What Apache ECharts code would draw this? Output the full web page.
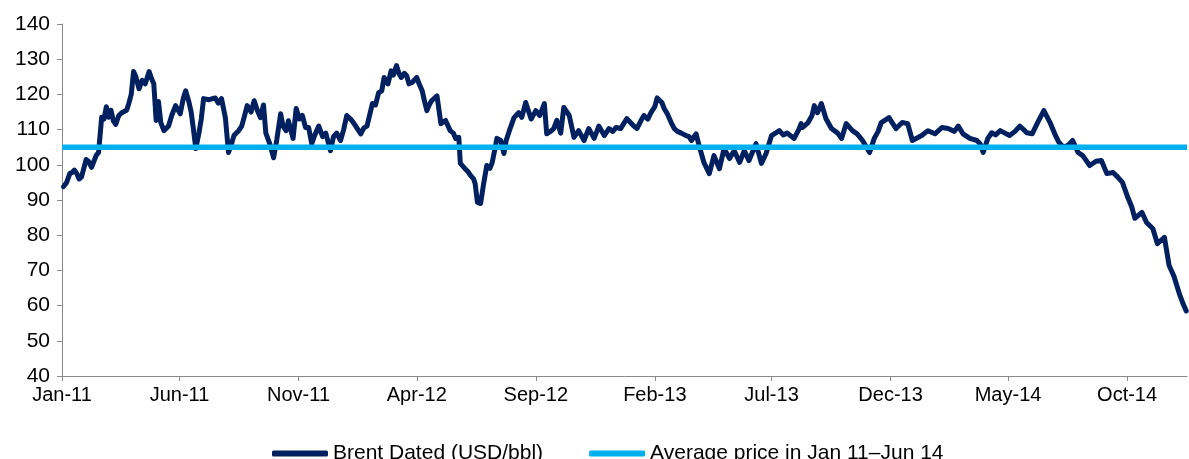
<!DOCTYPE html>
<html>
<head>
<meta charset="utf-8">
<script src="https://cdn.jsdelivr.net/npm/echarts@6/dist/echarts.min.js"></script>
<style>
  html, body { margin: 0; padding: 0; background: #fff; }
  #brentChart { width: 1189px; height: 459px; }
</style>
</head>
<body>
<div id="brentChart"></div>
<script>
// Brent Dated, USD/bbl
const brentDates = [
  '2011-01-03','2011-01-07','2011-01-11','2011-01-14','2011-01-17','2011-01-20','2011-01-23','2011-01-26','2011-01-29',
  '2011-02-01','2011-02-04','2011-02-08','2011-02-11','2011-02-14','2011-02-17','2011-02-19','2011-02-21','2011-02-24','2011-02-27',
  '2011-03-02','2011-03-05','2011-03-08','2011-03-11','2011-03-15','2011-03-19','2011-03-25','2011-03-28','2011-03-31',
  '2011-04-03','2011-04-06','2011-04-10','2011-04-14','2011-04-18','2011-04-23','2011-04-26','2011-04-29',
  '2011-05-02','2011-05-05','2011-05-08','2011-05-12','2011-05-18','2011-05-22','2011-05-27',
  '2011-06-02','2011-06-06','2011-06-09','2011-06-13','2011-06-16','2011-06-19','2011-06-22','2011-06-26','2011-06-29',
  '2011-07-02','2011-07-09','2011-07-17','2011-07-21','2011-07-25','2011-07-30',
  '2011-08-03','2011-08-07','2011-08-10','2011-08-16','2011-08-20','2011-08-23','2011-08-27',
  '2011-09-01','2011-09-05','2011-09-09','2011-09-13','2011-09-17','2011-09-20','2011-09-25','2011-09-30',
  '2011-10-04','2011-10-09','2011-10-12','2011-10-16','2011-10-19','2011-10-25','2011-10-29',
  '2011-11-02','2011-11-06','2011-11-10','2011-11-14','2011-11-18','2011-11-22','2011-11-27',
  '2011-12-02','2011-12-06','2011-12-09','2011-12-12','2011-12-16','2011-12-20','2011-12-25','2011-12-29',
  '2012-01-02','2012-01-07','2012-01-12','2012-01-20','2012-01-24','2012-01-28',
  '2012-02-04','2012-02-08','2012-02-12','2012-02-16','2012-02-19','2012-02-24','2012-02-28',
  '2012-03-02','2012-03-06','2012-03-09','2012-03-12','2012-03-16','2012-03-19','2012-03-22','2012-03-26',
  '2012-04-01','2012-04-04','2012-04-08','2012-04-11','2012-04-14','2012-04-17','2012-04-20','2012-04-27',
  '2012-05-02','2012-05-08','2012-05-14','2012-05-18','2012-05-21','2012-05-25','2012-05-27',
  '2012-06-02','2012-06-06','2012-06-09','2012-06-13','2012-06-15','2012-06-18','2012-06-22','2012-06-26','2012-06-30',
  '2012-07-04','2012-07-07','2012-07-10','2012-07-13','2012-07-18','2012-07-22','2012-07-25','2012-07-29',
  '2012-08-04','2012-08-10','2012-08-14','2012-08-19','2012-08-23','2012-08-26',
  '2012-09-01','2012-09-06','2012-09-12','2012-09-15','2012-09-20','2012-09-24','2012-09-28',
  '2012-10-03','2012-10-07','2012-10-14','2012-10-20','2012-10-26',
  '2012-11-02','2012-11-08','2012-11-15','2012-11-21','2012-11-28',
  '2012-12-04','2012-12-09','2012-12-13','2012-12-19','2012-12-27',
  '2013-01-05','2013-01-09','2013-01-14','2013-01-18','2013-01-23','2013-01-27',
  '2013-02-01','2013-02-04','2013-02-10','2013-02-13','2013-02-17','2013-02-22','2013-02-26',
  '2013-03-02','2013-03-07','2013-03-13','2013-03-17','2013-03-20','2013-03-26','2013-03-30',
  '2013-04-05','2013-04-12','2013-04-18','2013-04-25',
  '2013-05-01','2013-05-08','2013-05-14','2013-05-21','2013-05-27',
  '2013-06-02','2013-06-11','2013-06-18','2013-06-24',
  '2013-07-01','2013-07-06','2013-07-11','2013-07-16','2013-07-21','2013-07-30',
  '2013-08-05','2013-08-08','2013-08-10','2013-08-17','2013-08-22','2013-08-25','2013-08-29',
  '2013-09-03','2013-09-09','2013-09-16','2013-09-24','2013-09-29',
  '2013-10-05','2013-10-13','2013-10-19','2013-10-26',
  '2013-11-04','2013-11-10','2013-11-15','2013-11-19','2013-11-29',
  '2013-12-03','2013-12-08','2013-12-16','2013-12-23','2013-12-29',
  '2014-01-10','2014-01-18','2014-01-27',
  '2014-02-05','2014-02-13','2014-02-21','2014-02-26',
  '2014-03-04','2014-03-13','2014-03-22','2014-03-26','2014-03-30',
  '2014-04-05','2014-04-10','2014-04-15','2014-04-21','2014-04-27',
  '2014-05-03','2014-05-10','2014-05-16','2014-05-21','2014-05-25',
  '2014-06-01','2014-06-08','2014-06-16','2014-06-24','2014-06-30',
  '2014-07-05','2014-07-11','2014-07-17','2014-07-23','2014-07-30',
  '2014-08-05','2014-08-14','2014-08-22','2014-08-29',
  '2014-09-05','2014-09-13','2014-09-19','2014-09-25',
  '2014-10-02','2014-10-07','2014-10-11','2014-10-20','2014-10-26',
  '2014-11-03','2014-11-09','2014-11-18','2014-11-24','2014-11-30',
  '2014-12-07','2014-12-12','2014-12-16'
];
const brentValues = [
  93.8, 95.0, 97.5, 97.8, 98.5, 97.5, 96.0, 96.5, 99.0,
  101.5, 101.0, 99.3, 101.0, 102.7, 103.5, 104.0, 113.5, 113.0, 116.5,
  113.5, 115.5, 112.5, 111.5, 114.0, 114.8, 115.5, 117.5, 120.0,
  126.5, 125.0, 121.6, 124.0, 123.0, 126.5, 124.5, 123.0,
  112.6, 118.0, 112.0, 109.7, 111.0, 114.0, 116.8,
  114.5, 119.0, 121.0, 118.0, 115.0, 110.0, 104.6, 109.0, 113.0,
  118.8, 118.5, 119.0, 117.5, 118.8, 113.4,
  103.5, 106.0, 108.3, 109.7, 111.0, 113.4, 116.8,
  115.0, 118.2, 115.5, 113.4, 117.0, 109.0, 106.0, 102.0,
  107.0, 114.5, 111.0, 109.7, 112.5, 107.5, 116.0,
  113.0, 114.0, 110.6, 110.6, 106.0, 108.5, 111.0,
  108.0, 109.0, 106.5, 104.0, 108.0, 109.0, 106.9, 110.0,
  114.0, 113.0, 111.5, 108.8, 110.5, 111.0,
  117.4, 117.0, 120.5, 121.0, 124.8, 123.0, 126.7,
  125.5, 128.2, 126.0, 124.8, 126.0, 125.3, 123.0, 123.4,
  124.8, 123.0, 121.0, 118.0, 115.4, 117.0, 118.2, 119.6,
  111.7, 112.6, 109.7, 109.0, 107.5, 107.8, 100.4,
  98.9, 98.0, 97.0, 96.0, 94.7, 89.3, 89.0, 94.7, 99.8,
  99.0, 100.7, 104.0, 107.5, 106.9, 103.2, 107.0, 109.7,
  113.4, 114.8, 113.5, 117.7, 115.0, 113.0,
  115.4, 114.0, 117.4, 108.8, 109.5, 110.3, 112.6,
  109.0, 116.3, 114.0, 107.8, 109.7,
  106.9, 110.3, 107.5, 111.0, 108.3,
  110.3, 109.5, 110.6, 110.3, 113.1,
  111.0, 110.3, 112.5, 114.0, 113.0, 114.8,
  116.5, 119.0, 117.7, 116.0, 114.5, 112.0, 110.3,
  109.5, 109.0, 108.3, 108.0, 106.9, 108.8, 105.4,
  100.7, 97.5, 102.6, 98.9,
  104.6, 101.8, 104.0, 100.7, 104.0,
  101.2, 106.0, 100.4, 103.2,
  108.3, 109.0, 109.7, 108.5, 109.0, 107.5,
  110.0, 111.7, 110.6, 112.0, 114.0, 116.8, 114.8,
  117.4, 113.1, 110.3, 109.0, 107.5,
  111.7, 109.7, 108.8, 106.9,
  103.5, 107.5, 109.5, 112.0, 113.4,
  112.0, 110.3, 112.0, 111.7, 106.9,
  108.3, 109.7, 108.8,
  110.6, 110.3, 109.5, 111.0,
  108.8, 107.5, 106.9, 106.0, 103.5,
  107.5, 109.1, 108.5, 109.7, 109.0,
  108.3, 109.5, 111.0, 110.0, 109.1,
  108.8, 112.0, 115.4, 112.0, 108.8,
  106.5, 105.0, 105.5, 106.9, 103.5,
  102.6, 99.8, 101.0, 101.2,
  97.5, 97.8, 96.5, 95.0,
  90.7, 88.0, 84.8, 86.5, 83.6,
  81.9, 77.6, 79.4, 71.4, 68.5,
  63.5, 60.5, 58.5
];

// average price Jan 11 - Jun 14
const averagePrice = 105;

// x axis range and tick labels
const axisStart = '2011-01-01';
const axisEnd = '2014-12-17';
const tickDates = ['2011-01-01','2011-06-01','2011-11-01','2012-04-01','2012-09-01','2013-02-01',
  '2013-07-01','2013-12-01','2014-05-01','2014-10-01'];
const tickLabels = ['Jan-11','Jun-11','Nov-11','Apr-12','Sep-12','Feb-13','Jul-13','Dec-13','May-14','Oct-14'];

const seriesNames = ['Brent Dated (USD/bbl)', 'Average price in Jan 11\u2013Jun 14'];

// day number counted from axisStart, so the x axis is a plain value axis
function dayNo(s) {
  let p = s.split('-').map(Number);
  let q = axisStart.split('-').map(Number);
  return Math.round((Date.UTC(p[0], p[1] - 1, p[2]) - Date.UTC(q[0], q[1] - 1, q[2])) / 86400000);
}
const tickDays = tickDates.map(dayNo);

const font = 'Liberation Sans, Arial, sans-serif';

let brentChart = echarts.init(document.getElementById('brentChart'));
let option = {
  animation: false,
  grid: {left: 62, right: 2, top: 24, bottom: 83},
  legend: {
    left: 267,
    top: 438,
    itemWidth: 56,
    itemHeight: 6,
    itemGap: 46,
    icon: 'roundRect',
    textStyle: {fontFamily: font, fontSize: 21, color: '#000'},
    data: seriesNames
  },
  xAxis: {
    type: 'value',
    min: 0,
    max: dayNo(axisEnd),
    splitLine: {show: false},
    axisLine: {lineStyle: {color: '#898989', width: 1}},
    axisTick: {show: true, length: 5, customValues: tickDays, lineStyle: {color: '#898989'}},
    axisLabel: {
      customValues: tickDays,
      margin: 9,
      fontFamily: font,
      fontSize: 20,
      color: '#000',
      formatter: function (value) {
        let i = tickDays.indexOf(value);
        return i >= 0 ? tickLabels[i] : '';
      }
    }
  },
  yAxis: {
    type: 'value',
    min: 40,
    max: 140,
    interval: 10,
    splitLine: {show: false},
    axisLine: {show: true, lineStyle: {color: '#898989', width: 1}},
    axisTick: {show: true, length: 5, lineStyle: {color: '#898989'}},
    axisLabel: {margin: 12, fontFamily: font, fontSize: 21, color: '#000'}
  },
  series: [
    {
      name: seriesNames[0],
      type: 'line',
      showSymbol: false,
      color: '#002060',
      lineStyle: {color: '#002060', width: 5, join: 'round', cap: 'round'},
      data: brentDates.map((d, i) => [dayNo(d), brentValues[i]])
    },
    {
      name: seriesNames[1],
      type: 'line',
      showSymbol: false,
      color: '#00b0f0',
      lineStyle: {color: '#00b0f0', width: 5.5},
      data: [[0, averagePrice], [dayNo(axisEnd), averagePrice]]
    }
  ]
};
brentChart.setOption(option);
</script>
</body>
</html>
